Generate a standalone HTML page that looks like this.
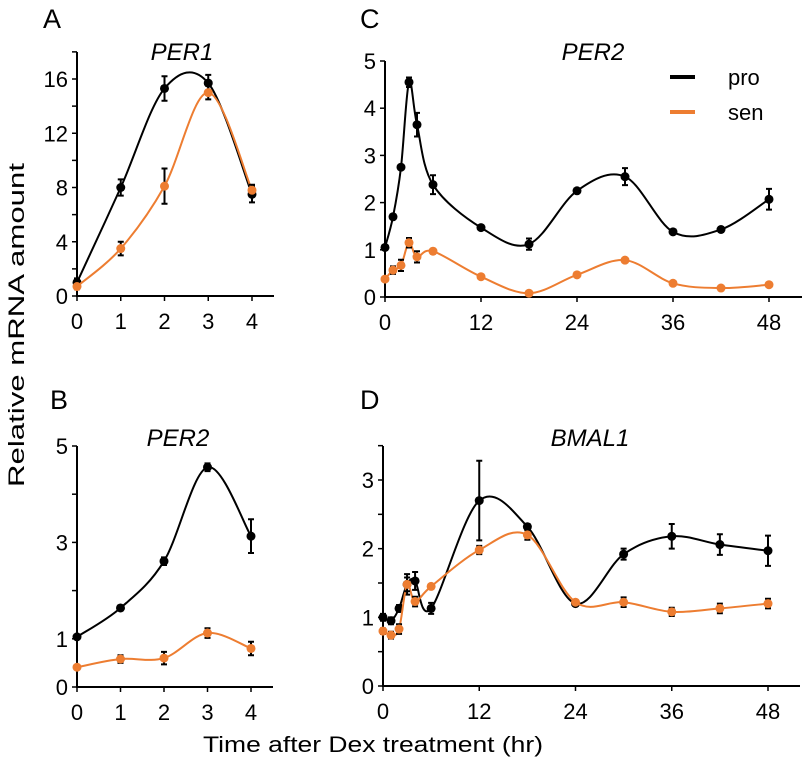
<!DOCTYPE html>
<html><head><meta charset="utf-8">
<style>
body{margin:0;background:#fff;}
svg{display:block;font-family:"Liberation Sans",sans-serif;}
</style></head>
<body>
<svg id="fig" width="803" height="767" viewBox="0 0 803 767">
<text x="17" y="325" font-size="22" text-anchor="middle" textLength="324" lengthAdjust="spacingAndGlyphs" transform="rotate(-90 17 325)" dy="7">Relative mRNA amount</text>
<text x="373" y="752" font-size="22" text-anchor="middle" textLength="340" lengthAdjust="spacingAndGlyphs">Time after Dex treatment (hr)</text>
<g>
<line x1="670" y1="77" x2="695" y2="77" stroke="#000" stroke-width="4"/>
<text x="728" y="85" font-size="22">pro</text>
<line x1="670" y1="112" x2="695" y2="112" stroke="#ed7d31" stroke-width="4"/>
<text x="728" y="120" font-size="22">sen</text>
</g>
</svg>
<script>
// Panel A: PER1
const aX = [0,1,2,3,4];
const aPro = [1.0,8.0,15.3,15.7,7.5];
const aProErr = [0.3,0.6,0.9,0.6,0.6];
const aSen = [0.7,3.5,8.1,15.0,7.8];
const aSenErr = [0.2,0.5,1.3,0.5,0.4];
const aYTicks = [0,4,8,12,16];
const aXTicks = [0,1,2,3,4];
// Panel B: PER2 short
const bX = [0,1,2,3,4];
const bPro = [1.04,1.64,2.61,4.56,3.13];
const bProErr = [0.03,0.05,0.08,0.08,0.35];
const bSen = [0.41,0.58,0.6,1.12,0.8];
const bSenErr = [0.02,0.08,0.13,0.1,0.14];
const bYTicks = [0,1,3,5];
const bXTicks = [0,1,2,3,4];
// Panel C: PER2 long
const cX = [0,1,2,3,4,6,12,18,24,30,36,42,48];
const cPro = [1.05,1.7,2.75,4.55,3.65,2.38,1.47,1.12,2.25,2.55,1.38,1.43,2.07];
const cProErr = [0.02,0.05,0.05,0.1,0.25,0.2,0.04,0.12,0.04,0.18,0.04,0.05,0.22];
const cSen = [0.38,0.57,0.67,1.15,0.85,0.97,0.43,0.08,0.47,0.78,0.29,0.19,0.26];
const cSenErr = [0.02,0.08,0.12,0.1,0.12,0.05,0.03,0.02,0.03,0.03,0.02,0.02,0.02];
const cYTicks = [0,1,2,3,4,5];
const cXTicks = [0,12,24,36,48];
// Panel D: BMAL1
const dX = [0,1,2,3,4,6,12,18,24,30,36,42,48];
const dPro = [1.0,0.95,1.13,1.48,1.53,1.13,2.7,2.32,1.2,1.92,2.18,2.06,1.97];
const dProErr = [0.05,0.05,0.05,0.15,0.13,0.08,0.58,0.04,0.03,0.08,0.18,0.15,0.22];
const dSen = [0.8,0.74,0.83,1.48,1.23,1.45,1.98,2.2,1.22,1.22,1.08,1.13,1.2];
const dSenErr = [0.04,0.05,0.07,0.1,0.07,0.03,0.06,0.07,0.03,0.07,0.06,0.07,0.07];
const dYTicks = [0,1,2,3];
const dXTicks = [0,12,24,36,48];

const NS = "http://www.w3.org/2000/svg";
const svg = document.getElementById('fig');
const ORANGE = "#ed7d31";
function mk(tag, attrs, parent){const e=document.createElementNS(NS,tag);for(const k in attrs)e.setAttribute(k,attrs[k]);(parent||svg).appendChild(e);return e;}

function spline(pts){
  let d = "M"+pts[0][0]+","+pts[0][1];
  for(let i=0;i<pts.length-1;i++){
    const p0=pts[Math.max(0,i-1)],p1=pts[i],p2=pts[i+1],p3=pts[Math.min(pts.length-1,i+2)];
    const t=1/6;
    const c1=[p1[0]+(p2[0]-p0[0])*t,p1[1]+(p2[1]-p0[1])*t];
    const c2=[p2[0]-(p3[0]-p1[0])*t,p2[1]-(p3[1]-p1[1])*t];
    d+=" C"+c1[0]+","+c1[1]+" "+c2[0]+","+c2[1]+" "+p2[0]+","+p2[1];
  }
  return d;
}

function panel(cfg){
  const g = mk('g',{});
  
  
  const sx = v => cfg.x0 + (v - cfg.xmin)/(cfg.xmax-cfg.xmin)*(cfg.x1-cfg.x0);
  const sy = v => cfg.y0 - v/cfg.ymax*(cfg.y0-cfg.y1);
  const ya = mk('line',{x1:cfg.x0,y1:cfg.y0,x2:cfg.x0,y2:cfg.ytop,stroke:"#000","stroke-width":2},g);
  
  
  const xa = mk('line',{x1:cfg.x0-1,y1:cfg.y0,x2:cfg.xend,y2:cfg.y0,stroke:"#000","stroke-width":2},g);
  
  
  for(let v=0; v<=cfg.yaxmax+1e-9; v+=cfg.minor){
    const t=mk('line',{x1:cfg.x0-5,y1:sy(v),x2:cfg.x0,y2:sy(v),stroke:"#000","stroke-width":1.5},g);
    
    
  }
  cfg.yt.forEach(v=>{
    const t=mk('text',{x:cfg.x0-9,y:sy(v)+8,"font-size":22,"text-anchor":"end"},g);
    t.textContent=v;
    
    
  });
  cfg.xt.forEach(v=>{
    const tk=mk('line',{x1:sx(v),y1:cfg.y0,x2:sx(v),y2:cfg.y0+5,stroke:"#000","stroke-width":1.5},g);
    
    
    const t=mk('text',{x:sx(v),y:cfg.y0+33,"font-size":22,"text-anchor":"middle"},g);
    t.textContent=v;
    
    
  });
  const lt=mk('text',{x:cfg.lx,y:cfg.ly,"font-size":27},g);
  lt.textContent=cfg.letter;
  
  
  const tt=mk('text',{x:cfg.tx,y:cfg.ty,"font-size":24,"font-style":"italic","text-anchor":"middle"},g);
  tt.textContent=cfg.title;
  
  
  [[cfg.pro,cfg.proErr,"#000","pro"],[cfg.sen,cfg.senErr,ORANGE,"sen"]].forEach(([vals,errs,col,nm])=>{
    const pts = cfg.xs.map((x,i)=>[sx(x),sy(vals[i])]);
    const p=mk('path',{d:spline(pts),fill:"none",stroke:col,"stroke-width":2},g);
    
    
    cfg.xs.forEach((x,i)=>{
      const cx=sx(x), a=sy(vals[i]+errs[i]), b=sy(vals[i]-errs[i]);
      const e=mk('path',{d:`M${cx},${a}V${b}M${cx-3},${a}H${cx+3}M${cx-3},${b}H${cx+3}`,stroke:"#000","stroke-width":2,fill:"none"},g);
      
      
      const c=mk('circle',{cx:cx,cy:sy(vals[i]),r:4.5,fill:col},g);
      
      
    });
  });
}

panel({name:'panel-a-per1',letter:'A',title:'PER1',lx:43,ly:28,tx:182,ty:60,
  x0:77,x1:252,xmin:0,xmax:4,xend:274,y0:296,y1:79,ymax:16,ytop:52,yaxmax:18,minor:2,
  yt:aYTicks,xt:aXTicks,xs:aX,pro:aPro,proErr:aProErr,sen:aSen,senErr:aSenErr});
panel({name:'panel-b-per2',letter:'B',title:'PER2',lx:50,ly:409,tx:178,ty:446,
  x0:77,x1:251,xmin:0,xmax:4,xend:273,y0:687,y1:446,ymax:5,ytop:446,yaxmax:5,minor:1,
  yt:bYTicks,xt:bXTicks,xs:bX,pro:bPro,proErr:bProErr,sen:bSen,senErr:bSenErr});
panel({name:'panel-c-per2',letter:'C',title:'PER2',lx:360,ly:28,tx:593,ty:60,
  x0:385,x1:769,xmin:0,xmax:48,xend:802,y0:297,y1:61,ymax:5,ytop:61,yaxmax:5,minor:1,
  yt:cYTicks,xt:cXTicks,xs:cX,pro:cPro,proErr:cProErr,sen:cSen,senErr:cSenErr});
panel({name:'panel-d-bmal1',letter:'D',title:'BMAL1',lx:360,ly:409,tx:590,ty:446,
  x0:383,x1:768,xmin:0,xmax:48,xend:800,y0:686,y1:480,ymax:3,ytop:446,yaxmax:3.5,minor:0.5,
  yt:dYTicks,xt:dXTicks,xs:dX,pro:dPro,proErr:dProErr,sen:dSen,senErr:dSenErr});
</script>
</body></html>
